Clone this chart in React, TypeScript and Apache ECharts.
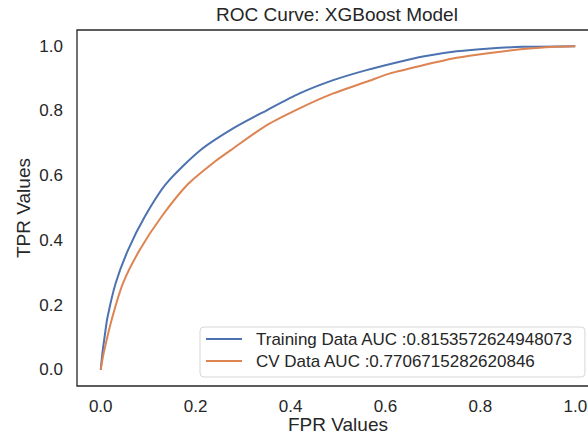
import React, { useEffect, useRef } from "react";
import * as echarts from "echarts";

// ROC curve points (false positive rate, true positive rate)
const fprTrain = [0, 0.0035, 0.008, 0.014, 0.0316, 0.0575, 0.0927, 0.1385, 0.2086, 0.279, 0.35, 0.419, 0.49, 0.56, 0.63, 0.679, 0.75, 0.82, 0.89, 1];
const tprTrain = [0, 0.051, 0.1, 0.16, 0.268, 0.37, 0.473, 0.576, 0.677, 0.746, 0.802, 0.854, 0.895, 0.926, 0.952, 0.968, 0.984, 0.993, 0.998, 1];

const fprCv = [0, 0.006, 0.024, 0.047, 0.082, 0.128, 0.184, 0.24, 0.279, 0.35, 0.419, 0.49, 0.56, 0.61, 0.679, 0.75, 0.82, 0.89, 0.96, 1];
const tprCv = [0, 0.05, 0.16, 0.268, 0.37, 0.473, 0.574, 0.643, 0.684, 0.756, 0.808, 0.854, 0.89, 0.916, 0.941, 0.964, 0.979, 0.991, 0.998, 1];

const seriesNames = [
  "Training Data AUC :0.8153572624948073",
  "CV Data AUC :0.7706715282620846",
];
const tickValues = [0, 0.2, 0.4, 0.6, 0.8, 1.0];

const FONT = "'Liberation Sans', Arial, sans-serif";
const INK = "#262626";

const zip = (xs: number[], ys: number[]) => xs.map((x, i) => [x, ys[i]]);

const tickLabel = (v: number) => {
  const hit = tickValues.find((t) => Math.abs(t - v) < 1e-6);
  return hit === undefined ? "" : hit.toFixed(1);
};

export default function App() {
  const ref = useRef<HTMLDivElement>(null);

  useEffect(() => {
    if (!ref.current) return;
    const chart = echarts.init(ref.current, undefined, { renderer: "svg" });
    const axisCommon = {
      type: "value" as const,
      min: -0.05,
      max: 1.05,
      interval: 0.05,
      nameLocation: "middle" as const,
      nameMoveOverlap: false,
      axisLine: { show: false },
      axisTick: { show: false },
      splitLine: { show: false },
    };
    chart.setOption({
      animation: false,
      backgroundColor: "#ffffff",
      textStyle: { fontFamily: FONT },
      title: {
        text: "ROC Curve: XGBoost Model",
        left: 337,
        textAlign: "center",
        top: 5,
        padding: 0,
        textStyle: { fontSize: 19, fontWeight: "normal", color: INK, fontFamily: FONT },
      },
      grid: {
        left: 77,
        right: -11,
        top: 30,
        bottom: 51,
        outerBoundsMode: "none",
        containLabel: false,
        show: true,
        borderColor: INK,
        borderWidth: 1.3,
        backgroundColor: "transparent",
      },
      xAxis: {
        ...axisCommon,
        name: "FPR Values",
        nameGap: 29,
        nameTextStyle: { fontSize: 19, color: INK, fontFamily: FONT, verticalAlign: "top", lineHeight: 19 },
        axisLabel: {
          formatter: tickLabel,
          fontSize: 17,
          color: INK,
          fontFamily: FONT,
          margin: 12,
        },
      },
      yAxis: {
        ...axisCommon,
        name: "TPR Values",
        nameGap: 44,
        nameTextStyle: { fontSize: 19, color: INK, fontFamily: FONT, verticalAlign: "bottom", lineHeight: 19 },
        axisLabel: {
          formatter: tickLabel,
          fontSize: 17,
          color: INK,
          fontFamily: FONT,
          margin: 14,
        },
      },
      legend: {
        orient: "vertical",
        left: 200,
        top: 327,
        padding: [1, 12, 5, 6],
        itemGap: 0,
        itemWidth: 36,
        itemHeight: 2,
        icon: "rect",
        backgroundColor: "#ffffff",
        borderColor: "#d6d6d6",
        borderWidth: 1,
        borderRadius: 4,
        textStyle: {
          fontSize: 17,
          lineHeight: 22,
          color: INK,
          fontFamily: FONT,
          padding: [0, 0, 0, 9],
        },
        data: seriesNames,
      },
      series: [
        {
          name: seriesNames[0],
          type: "line",
          data: zip(fprTrain, tprTrain),
          showSymbol: false,
          smooth: 0.25,
          color: "#4C72B0",
          lineStyle: { width: 2, color: "#4C72B0" },
        },
        {
          name: seriesNames[1],
          type: "line",
          data: zip(fprCv, tprCv),
          showSymbol: false,
          smooth: 0.25,
          color: "#DD8452",
          lineStyle: { width: 2, color: "#DD8452" },
        },
      ],
    });
    return () => chart.dispose();
  }, []);

  return (
    <div
      ref={ref}
      style={{ position: "fixed", left: 0, top: 0, width: 588, height: 437, overflow: "hidden" }}
    />
  );
}
